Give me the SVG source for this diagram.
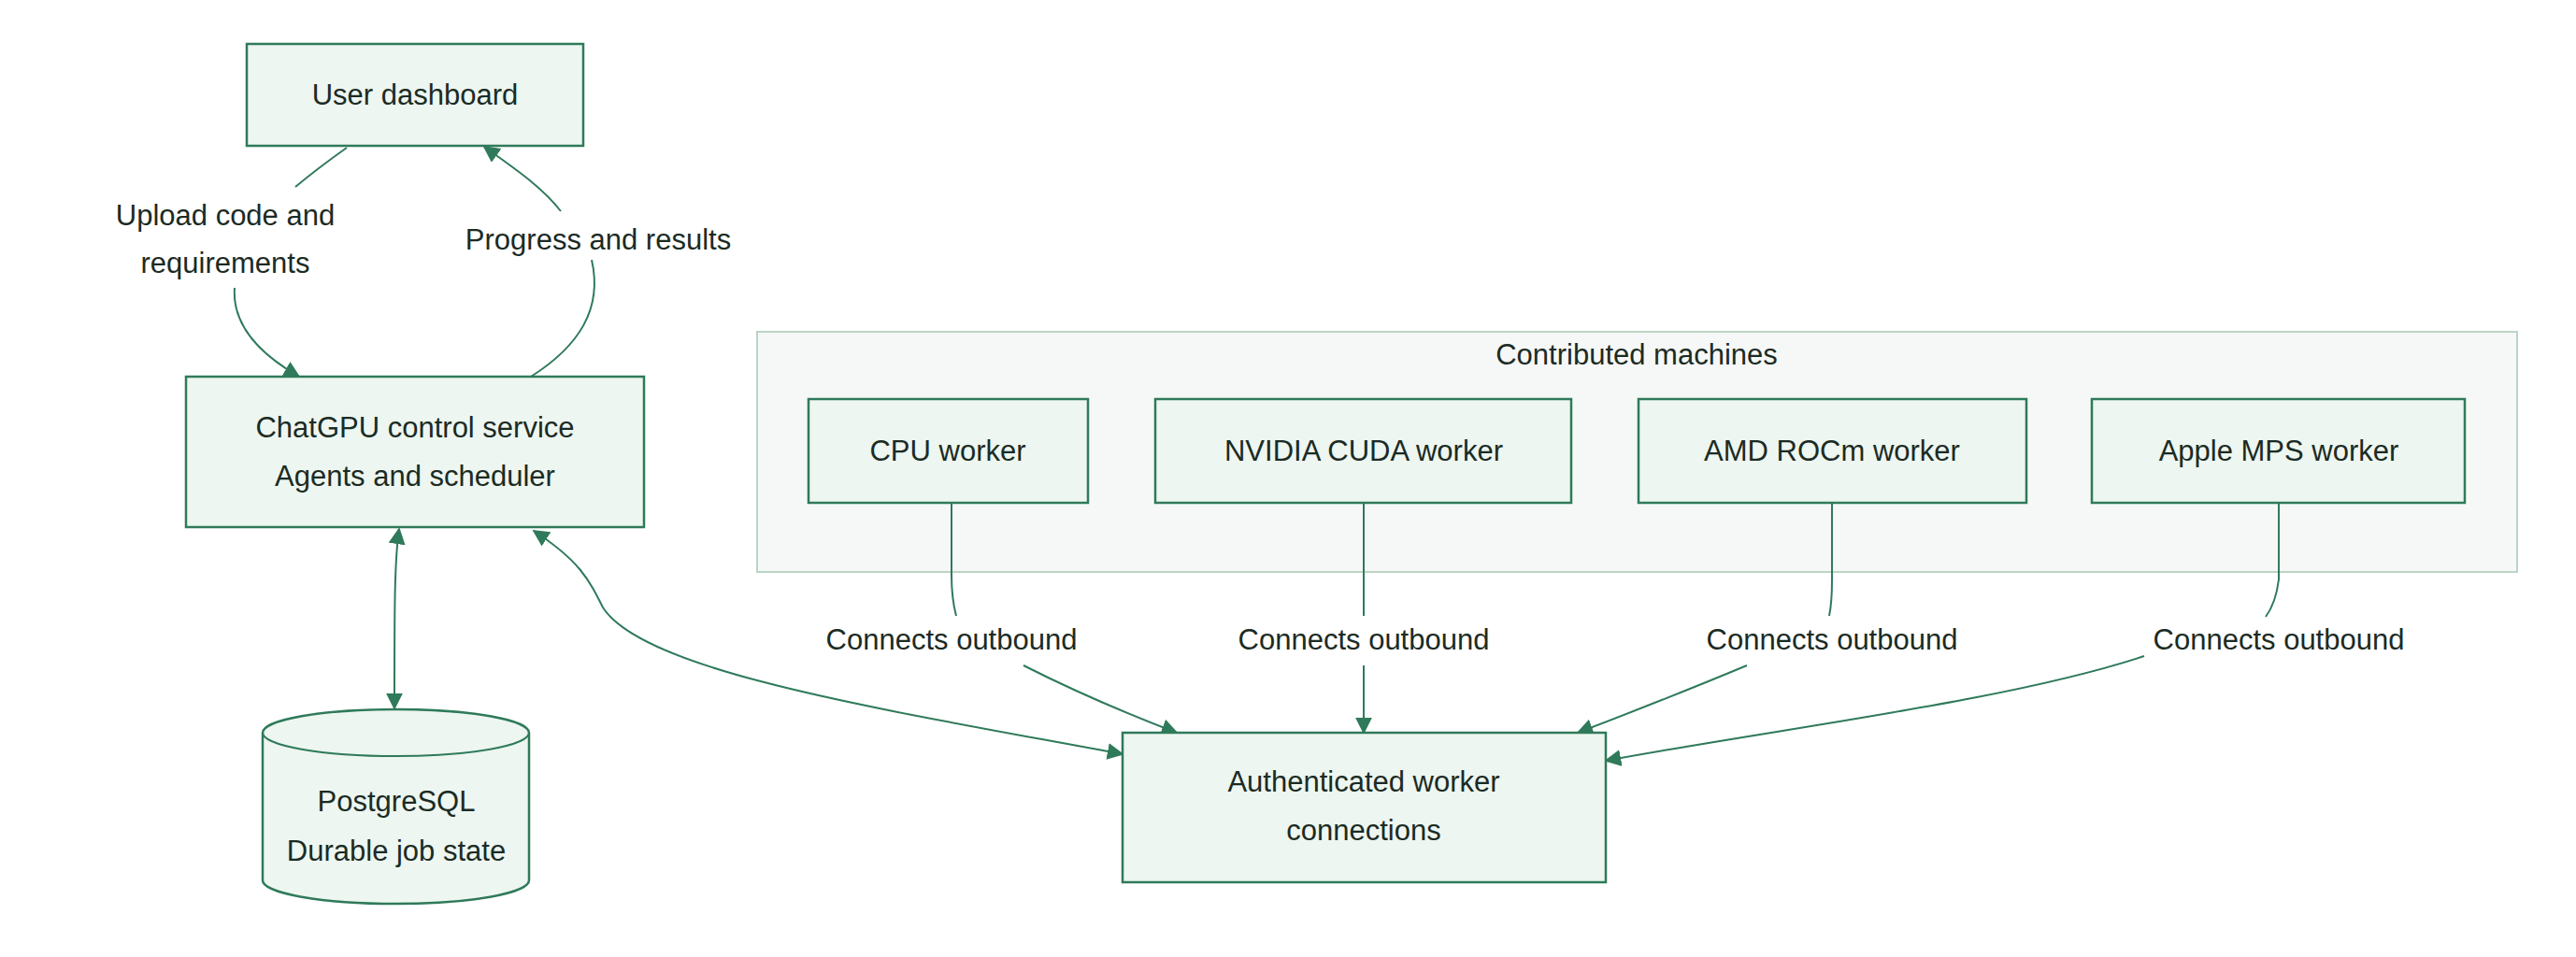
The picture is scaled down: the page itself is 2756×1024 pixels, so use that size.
<svg xmlns="http://www.w3.org/2000/svg" width="2756" height="1024" viewBox="0 0 2756 1024">
<defs>
<style>
.n{fill:#edf6f0;stroke:#2f7a5a;stroke-width:2.5}
.t{font-family:"Liberation Sans",Arial,sans-serif;font-size:31px;fill:#1b2b24;text-anchor:middle}
.e{fill:none;stroke:#2f7a5a;stroke-width:2}
</style>
<marker id="a" viewBox="0 0 10 10" refX="9" refY="5" markerWidth="9" markerHeight="9" markerUnits="userSpaceOnUse" orient="auto-start-reverse"><path d="M0,0L10,5L0,10z" fill="#2f7a5a"/></marker>
<marker id="ab" viewBox="0 0 10 10" refX="9" refY="5" markerWidth="18" markerHeight="18" markerUnits="userSpaceOnUse" orient="auto-start-reverse"><path d="M0,0L10,5L0,10z" fill="#2f7a5a"/></marker>
</defs>
<rect width="2756" height="1024" fill="#fff"/>
<g id="cluster">
<rect x="810" y="355" width="1883" height="257" fill="#f6f8f7" stroke="#bcd4c6" stroke-width="2"/>
<text class="t" x="1751" y="390">Contributed machines</text>
</g>
<g id="edges">
<path class="e" d="M371,158 Q340,180 316,200"/>
<path class="e" marker-end="url(#ab)" d="M251,308 C248,350 280,380 320,403"/>
<path class="e" d="M568,403 C620,370 645,330 633,278"/>
<path class="e" marker-end="url(#ab)" d="M600,226 C580,200 550,180 518,157"/>
<path class="e" marker-start="url(#ab)" marker-end="url(#ab)" d="M427,566 C422,600 422,650 422,758"/>
<path class="e" marker-start="url(#ab)" marker-end="url(#ab)" d="M571,568 C620,600 630,620 645,650 C690,720 950,760 1201,807"/>
<path class="e" d="M1018,538 L1018,615 Q1018,640 1023,659"/>
<path class="e" marker-end="url(#ab)" d="M1095,712 Q1170,750 1259,784"/>
<path class="e" d="M1459,538 L1459,659"/>
<path class="e" marker-end="url(#ab)" d="M1459,712 L1459,784"/>
<path class="e" d="M1960,538 L1960,620 Q1960,645 1957,659"/>
<path class="e" marker-end="url(#ab)" d="M1869,712 Q1790,745 1688,784"/>
<path class="e" d="M2438,538 L2438,620 Q2435,645 2424,660"/>
<path class="e" marker-end="url(#ab)" d="M2294,702 C2150,750 1900,780 1718,814"/>
</g>
<g id="labels">
<text class="t" x="241" y="241">Upload code and</text>
<text class="t" x="241" y="292">requirements</text>
<text class="t" x="640" y="267">Progress and results</text>
<text class="t" x="1018" y="695">Connects outbound</text>
<text class="t" x="1459" y="695">Connects outbound</text>
<text class="t" x="1960" y="695">Connects outbound</text>
<text class="t" x="2438" y="695">Connects outbound</text>
</g>
<g id="dashboard"><rect class="n" x="264" y="47" width="360" height="109"/><text class="t" x="444" y="112">User dashboard</text></g>
<g id="control"><rect class="n" x="199" y="403" width="490" height="161"/><text class="t" x="444" y="468">ChatGPU control service</text><text class="t" x="444" y="520">Agents and scheduler</text></g>
<g id="postgres"><path class="n" d="M281,784 A142,25 0 0 1 566,784 L566,942 A142,25 0 0 1 281,942 Z"/><path class="e" d="M281,784 A142,25 0 0 0 566,784"/><text class="t" x="424" y="868">PostgreSQL</text><text class="t" x="424" y="921">Durable job state</text></g>
<g id="cpu"><rect class="n" x="865" y="427" width="299" height="111"/><text class="t" x="1014" y="493">CPU worker</text></g>
<g id="nvidia"><rect class="n" x="1236" y="427" width="445" height="111"/><text class="t" x="1459" y="493">NVIDIA CUDA worker</text></g>
<g id="amd"><rect class="n" x="1753" y="427" width="415" height="111"/><text class="t" x="1960" y="493">AMD ROCm worker</text></g>
<g id="apple"><rect class="n" x="2238" y="427" width="399" height="111"/><text class="t" x="2438" y="493">Apple MPS worker</text></g>
<g id="auth"><rect class="n" x="1201" y="784" width="517" height="160"/><text class="t" x="1459" y="847">Authenticated worker</text><text class="t" x="1459" y="899">connections</text></g>
</svg>
